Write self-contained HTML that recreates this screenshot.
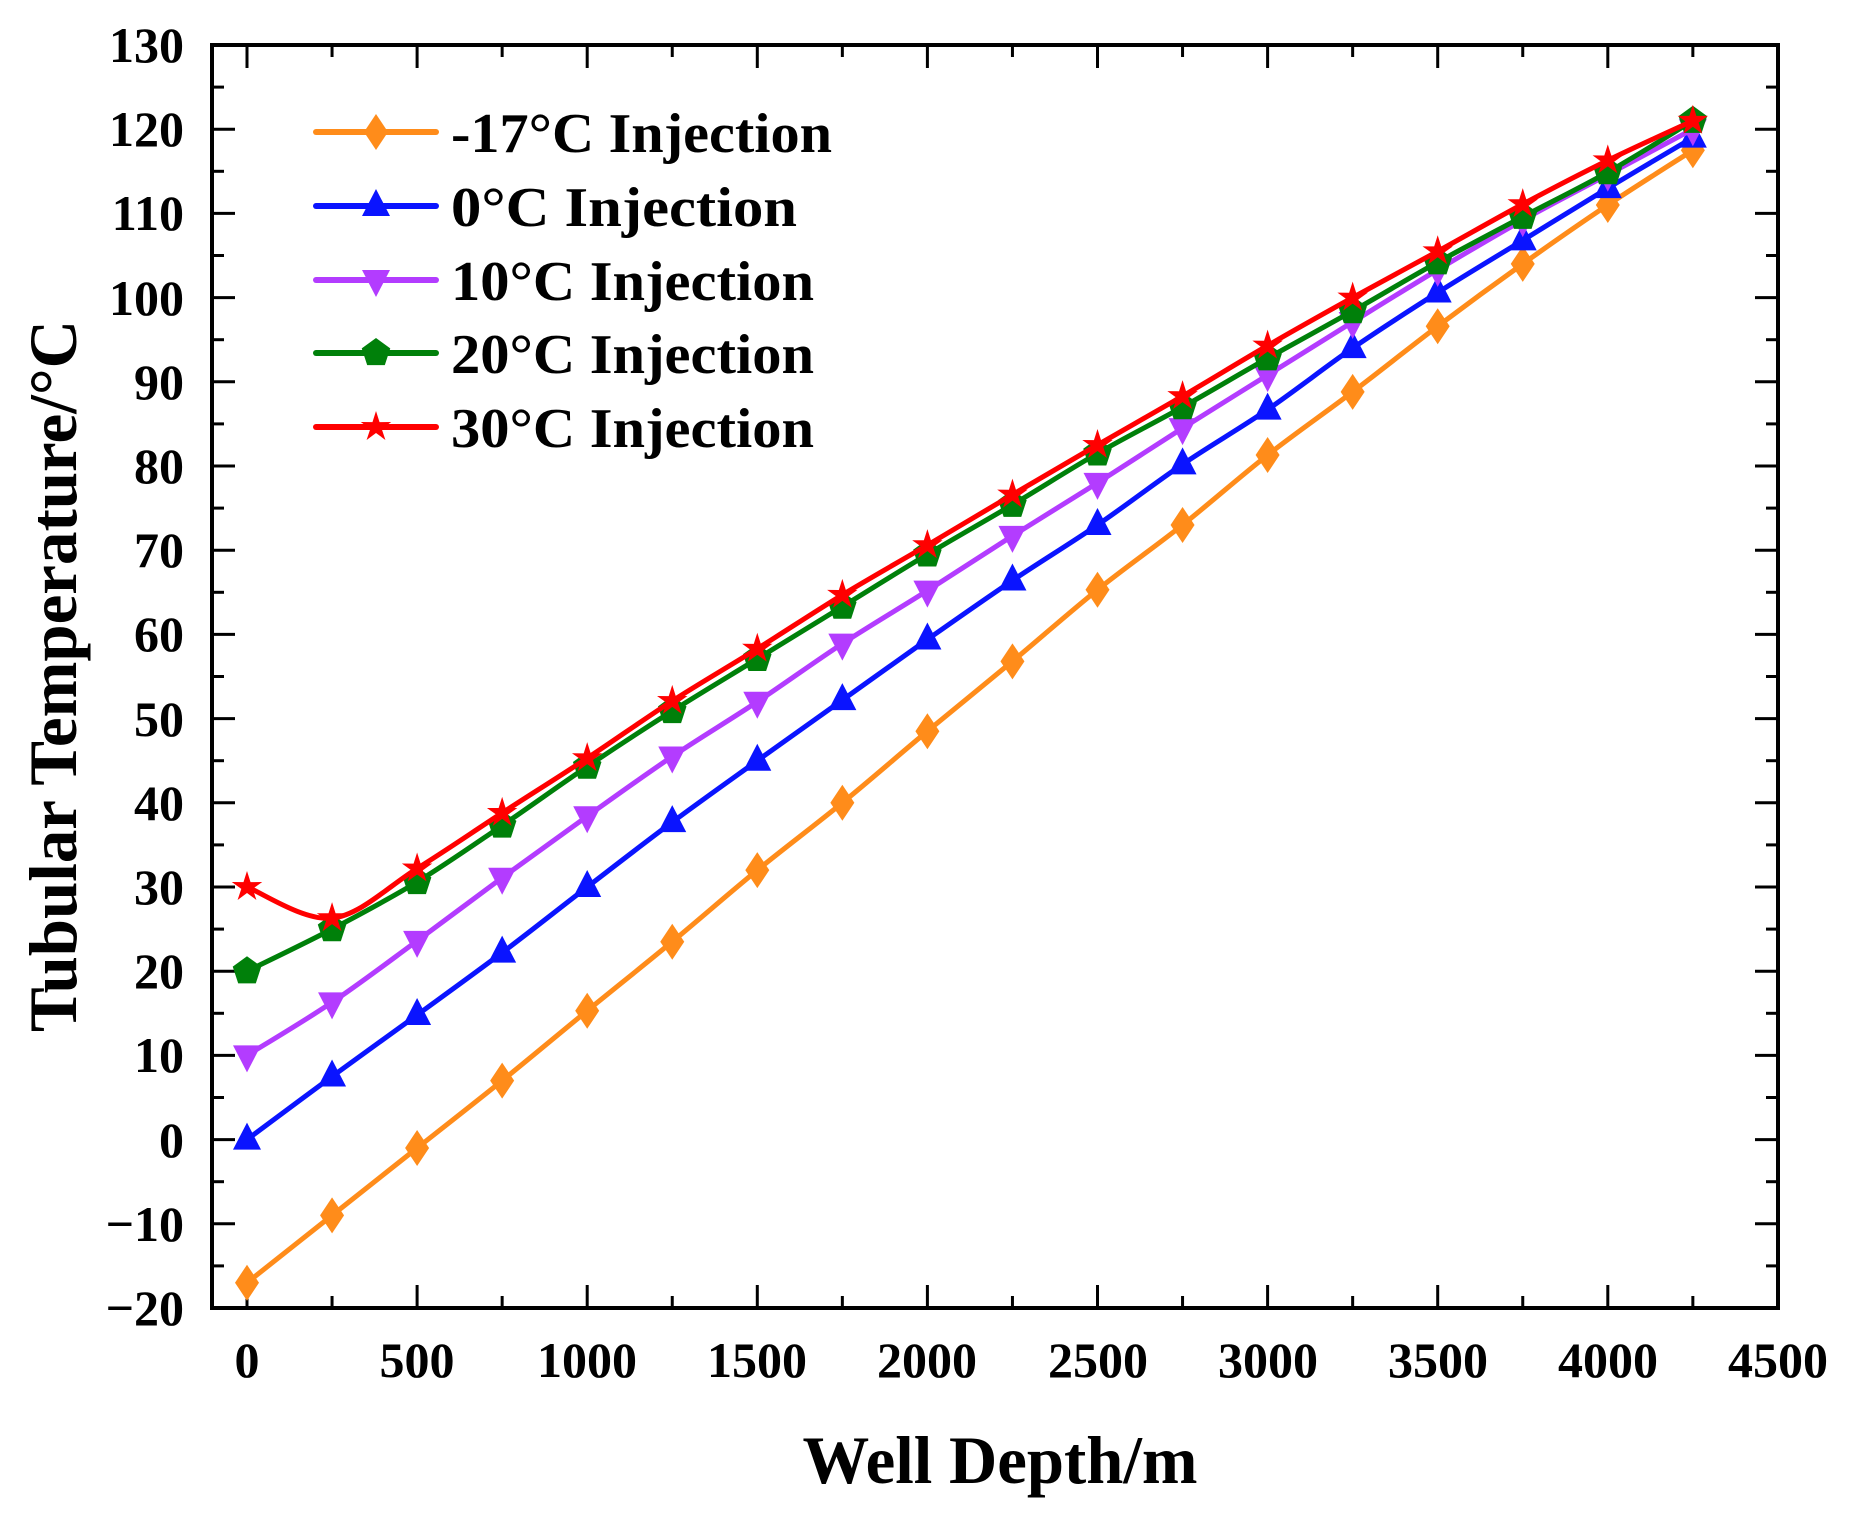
<!DOCTYPE html>
<html><head><meta charset="utf-8"><style>html,body{margin:0;padding:0;background:#fff}svg{display:block}</style></head>
<body>
<svg id="s" width="1851" height="1519" xmlns="http://www.w3.org/2000/svg" font-family="'Liberation Serif',serif" font-weight="bold">
<rect width="1851" height="1519" fill="#fff"/>
<g id="ticks" stroke="#000" stroke-width="3"></g>
<g id="series"></g>
<rect x="212" y="45" width="1566" height="1263" fill="none" stroke="#000" stroke-width="4"/>
<g font-size="50" text-anchor="end">
<text x="184" y="62">130</text><text x="184" y="146">120</text><text x="184" y="230">110</text>
<text x="184" y="315">100</text><text x="184" y="399">90</text><text x="184" y="483">80</text>
<text x="184" y="567">70</text><text x="184" y="651">60</text><text x="184" y="736">50</text>
<text x="184" y="820">40</text><text x="184" y="904">30</text><text x="184" y="988">20</text>
<text x="184" y="1072">10</text><text x="184" y="1157">0</text><text x="184" y="1241">−10</text>
<text x="184" y="1325">−20</text>
</g>
<g font-size="50" text-anchor="middle">
<text x="247" y="1377">0</text><text x="417" y="1377">500</text><text x="587" y="1377">1000</text>
<text x="757" y="1377">1500</text><text x="927" y="1377">2000</text><text x="1098" y="1377">2500</text>
<text x="1268" y="1377">3000</text><text x="1438" y="1377">3500</text><text x="1608" y="1377">4000</text>
<text x="1778" y="1377">4500</text>
</g>
<text x="1000" y="1483" font-size="68" text-anchor="middle" textLength="395" lengthAdjust="spacingAndGlyphs">Well Depth/m</text>
<text transform="translate(76,676) rotate(-90)" font-size="68" text-anchor="middle" textLength="712" lengthAdjust="spacingAndGlyphs">Tubular Temperature/°C</text>
<g font-size="56">
<text x="451" y="152" textLength="381" lengthAdjust="spacingAndGlyphs">-17°C Injection</text>
<text x="451" y="226" textLength="346" lengthAdjust="spacingAndGlyphs">0°C  Injection</text>
<text x="451" y="300" textLength="363" lengthAdjust="spacingAndGlyphs">10°C Injection</text>
<text x="451" y="373" textLength="363" lengthAdjust="spacingAndGlyphs">20°C Injection</text>
<text x="451" y="447" textLength="363" lengthAdjust="spacingAndGlyphs">30°C Injection</text>
</g>
<g id="legend"></g>
</svg>
<script>
const NS="http://www.w3.org/2000/svg";
const X=x=>247+x*0.3402, Y=v=>45+(130-v)*8.42;
function el(p,t,a){const e=document.createElementNS(NS,t);for(const k in a)e.setAttribute(k,a[k]);p.appendChild(e);return e;}
const tk=document.getElementById('ticks');
for(let v=-20;v<=130;v+=5){const y=Y(v),L=(v%10===0)?23:12;
 el(tk,'line',{x1:212,y1:y,x2:212+L,y2:y});el(tk,'line',{x1:1778,y1:y,x2:1778-L,y2:y});}
for(let x=0;x<=4250;x+=250){const px=X(x),L=(x%500===0)?23:12;
 el(tk,'line',{x1:px,y1:1308,x2:px,y2:1308-L});el(tk,'line',{x1:px,y1:45,x2:px,y2:45+L});}
const D=[
 ['#ff8c1a','dia',[-17,-9,-1,7,15.3,23.5,32,40,48.5,56.8,65.3,73,81.3,88.8,96.6,104,111,117.5]],
 ['#0a14ff','tri',[0,7.5,14.8,22.2,30,37.7,45,52.2,59.4,66.4,73,80.2,86.7,94,100.6,106.8,113,119]],
 ['#b33cff','inv',[10,16.3,23.6,31.1,38.4,45.5,52,58.9,65.2,71.7,78,84.5,90.8,97.1,103.3,109.2,114.6,120]],
 ['#00800a','pent',[20,25,30.6,37.3,44.3,50.9,57.1,63.3,69.5,75.4,81.5,87,92.8,98.4,104.2,109.6,114.9,121]],
 ['#ff0000','star',[30,26.3,32.2,38.8,45.3,52.1,58.3,64.7,70.6,76.6,82.5,88.3,94.3,100,105.5,111.1,116.3,121]]];
function marker(g,type,x,y,c){
 let pts;
 if(type==='dia')pts=[[0,-18],[12,0],[0,18],[-12,0]];
 else if(type==='tri')pts=[[0,-17],[14,10],[-14,10]];
 else if(type==='inv')pts=[[0,17],[14,-10],[-14,-10]];
 else if(type==='pent'){pts=[];for(let i=0;i<5;i++){const a=-Math.PI/2+i*2*Math.PI/5;pts.push([15*Math.cos(a),15*Math.sin(a)]);}}
 else {pts=[];for(let i=0;i<10;i++){const a=-Math.PI/2+i*Math.PI/5,r=i%2?6:16;pts.push([r*Math.cos(a),r*Math.sin(a)]);}}
 el(g,'polygon',{points:pts.map(p=>(x+p[0])+','+(y+p[1])).join(' '),fill:c});
}
const sg=document.getElementById('series');
D.forEach(([c,t,v])=>{
 const P=v.map((y,i)=>[X(i*250),Y(y)]);
 let d='M'+P[0];
 for(let i=0;i<P.length-1;i++){const p0=P[Math.max(0,i-1)],p1=P[i],p2=P[i+1],p3=P[Math.min(P.length-1,i+2)];
  const c1=[p1[0]+(p2[0]-p0[0])/6,p1[1]+(p2[1]-p0[1])/6],c2=[p2[0]-(p3[0]-p1[0])/6,p2[1]-(p3[1]-p1[1])/6];
  d+=' C'+c1+' '+c2+' '+p2;}
 el(sg,'path',{d:d,fill:'none',stroke:c,'stroke-width':5});
 P.forEach(p=>marker(sg,t,p[0],p[1],c));
});
const lg=document.getElementById('legend');
[132,206,280,353,427].forEach((y,i)=>{const [c,t]=D[i];
 el(lg,'line',{x1:316,y1:y,x2:436,y2:y,stroke:c,'stroke-width':6,'stroke-linecap':'round'});
 marker(lg,t,376,y,c);});
</script>
</body></html>
